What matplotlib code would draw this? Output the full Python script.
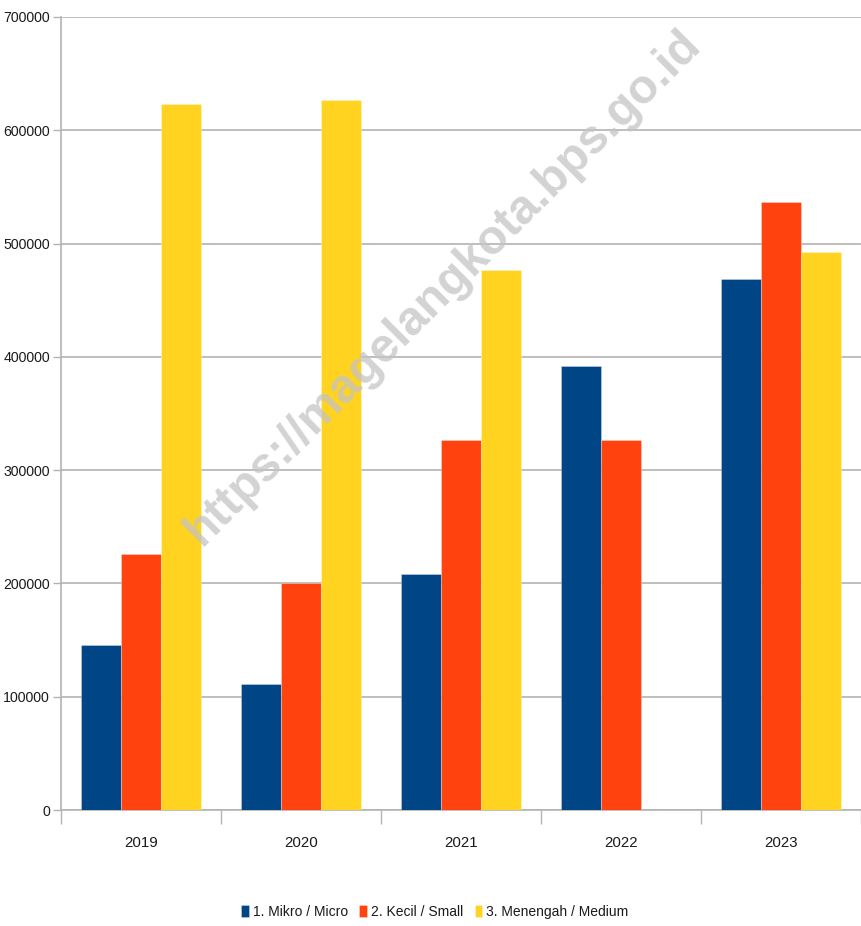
import matplotlib
matplotlib.use("Agg")
import matplotlib.pyplot as plt
from matplotlib import font_manager as fm
import numpy as np

years = ["2019", "2020", "2021", "2022", "2023"]
series_names = ["1. Mikro / Micro", "2. Kecil / Small", "3. Menengah / Medium"]
micro = [146000, 111000, 208000, 392000, 469000]
small = [226000, 200000, 327000, 327000, 537000]
medium = [623000, 627000, 477000, 0, 493000]
colors = ["#004586", "#ff420e", "#ffd320"]
yticks = [0, 100000, 200000, 300000, 400000, 500000, 600000, 700000]

names = {f.name for f in fm.fontManager.ttflist}
if 'Liberation Sans Narrow' in names:
    fam, xfs, yfs, lfs = 'Liberation Sans Narrow', 12.5, 12, 12
else:
    fam, xfs, yfs, lfs = 'Liberation Sans', 10.8, 10.2, 10
plt.rcParams['font.family'] = [fam, 'DejaVu Sans']

W, H = 861, 926
fig = plt.figure(figsize=(W / 100, H / 100), dpi=100)
ax = fig.add_axes([61 / W, (H - 810) / H, (861 - 61) / W, (810 - 17) / H])

x = np.arange(len(years))
bw = 0.25
for i, (vals, c, name) in enumerate(zip([micro, small, medium], colors, series_names)):
    ax.bar(x + (i - 1) * bw, vals, width=bw, color=c, label=name, zorder=3,
           edgecolor=(1, 1, 1, 0.35), linewidth=0.6)

ax.set_xlim(-0.5, len(years) - 0.5)
ax.set_ylim(0, 700000)
ax.set_yticks(yticks)
ax.set_yticklabels([str(v) for v in yticks])
ax.set_xticks(x)
ax.set_xticklabels(years)
ax.tick_params(axis='x', length=0, pad=19, labelsize=xfs, labelcolor='#1a1a1a')
ax.tick_params(axis='y', length=6, width=1, color='#b3b3b3', pad=2, labelsize=yfs, labelcolor='#1a1a1a')
ax.set_xticks(np.arange(-0.5, len(years), 1.0), minor=True)
ax.tick_params(axis='x', which='minor', length=10, width=1, color='#b3b3b3')

ax.grid(axis='y', color='#b3b3b3', linewidth=1.2, zorder=0)
ax.set_axisbelow(True)
for s in ['top', 'right']:
    ax.spines[s].set_visible(False)
for s in ['left', 'bottom']:
    ax.spines[s].set_color('#b3b3b3')
    ax.spines[s].set_linewidth(1.2)

fig.text(443 / W, 1 - 288 / H, "https://magelangkota.bps.go.id", rotation=45,
         ha='center', va='center', fontsize=34.5, fontweight='bold',
         family=['Liberation Sans', 'DejaVu Sans'], color='#c4c4c4', alpha=0.75, zorder=1)

leg = fig.legend(loc='center', bbox_to_anchor=(435 / W, 1 - 912 / H), ncol=3, frameon=False,
                 fontsize=lfs, handlelength=0.55, handleheight=0.95, handletextpad=0.3,
                 columnspacing=0.8)
for t in leg.get_texts():
    t.set_color('#1a1a1a')

fig.savefig("out.png", dpi=100)
